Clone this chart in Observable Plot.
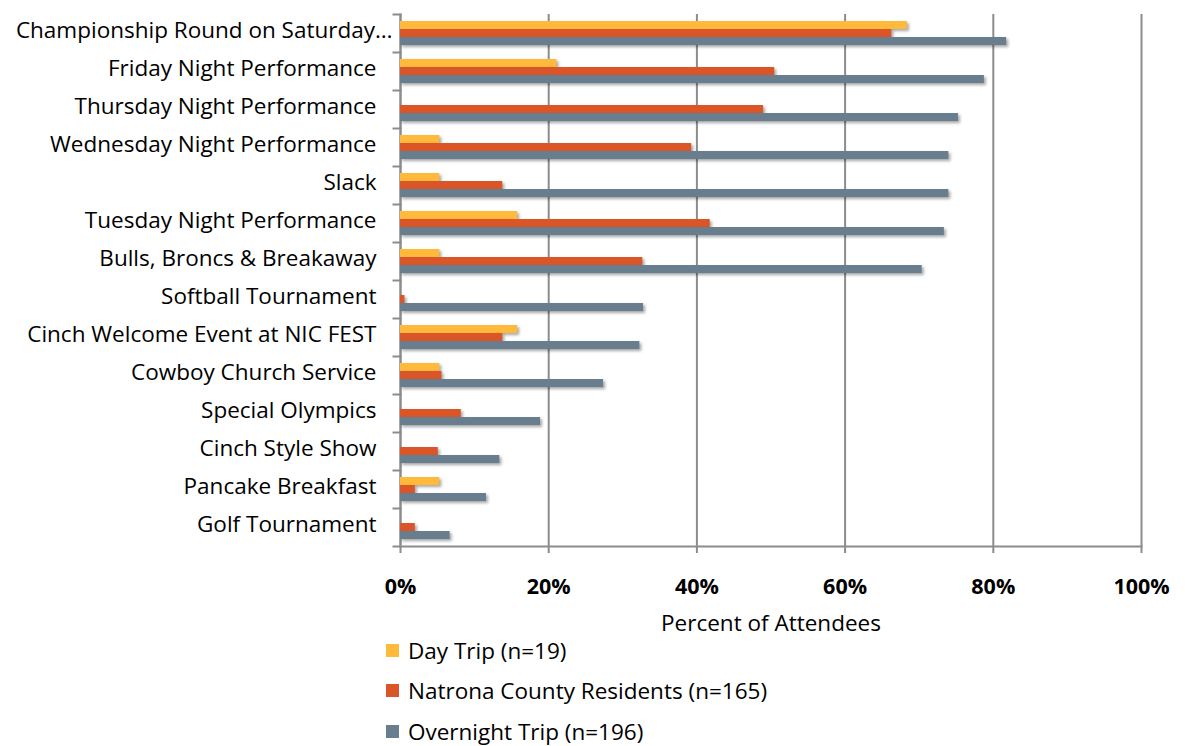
<!DOCTYPE html>
<html><head><meta charset="utf-8">
<script src="https://cdn.jsdelivr.net/npm/d3@7"></script>
<script src="https://cdn.jsdelivr.net/npm/@observablehq/plot@0.6"></script>
<style>
body{margin:0;background:#fff;font-family:"Open Sans",sans-serif;}
#chart{position:relative;width:1185px;height:746px;overflow:hidden;}
#chart svg{position:absolute;left:0;top:0;}
.legend{position:absolute;left:386px;top:630px;}
.item{height:40.5px;display:flex;align-items:center;font-size:22.5px;color:#000;}
.sw{width:13px;height:13px;margin-right:9px;}
g[aria-label="bar"] rect{filter:drop-shadow(2px 2px 1.5px rgba(0,0,0,0.35));}
</style></head>
<body><div id="chart"></div>
<script>
const categories = [
  "Championship Round on Saturday…",
  "Friday Night Performance",
  "Thursday Night Performance",
  "Wednesday Night Performance",
  "Slack",
  "Tuesday Night Performance",
  "Bulls, Broncs & Breakaway",
  "Softball Tournament",
  "Cinch Welcome Event at NIC FEST",
  "Cowboy Church Service",
  "Special Olympics",
  "Cinch Style Show",
  "Pancake Breakfast",
  "Golf Tournament"
];
const seriesNames = ["Day Trip (n=19)", "Natrona County Residents (n=165)", "Overnight Trip (n=196)"];
const dayTrip   = [68.4, 21.1, 0, 5.3, 5.3, 15.8, 5.3, 0, 15.8, 5.3, 0, 0, 5.3, 0];
const natrona   = [66.3, 50.5, 49.0, 39.3, 13.8, 41.8, 32.7, 0.6, 13.8, 5.6, 8.2, 5.1, 2.0, 2.0];
const overnight = [81.8, 78.8, 75.3, 74.0, 74.0, 73.4, 70.4, 32.8, 32.3, 27.4, 18.9, 13.4, 11.6, 6.7];
const xTicks = [0, 20, 40, 60, 80, 100];
const colors = ["#FFB93B", "#DA5628", "#687E8F"];
const xLabel = "Percent of Attendees";

const seriesValues = [dayTrip, natrona, overnight];
const data = categories.flatMap((c, i) =>
  seriesNames.map((s, j) => ({category: c, series: s, value: seriesValues[j][i]}))
).filter(d => d.value > 0);

const grid = "#8c8c8c";
const plot = Plot.plot({
  width: 1185, height: 650,
  marginTop: 11, marginBottom: 102, marginLeft: 400, marginRight: 44,
  style: {fontFamily: "'Open Sans', sans-serif", fontSize: "22px", color: "#000", background: "transparent"},
  x: {domain: [0, 100]},
  fy: {domain: categories, padding: 0, label: null},
  y: {domain: seriesNames, paddingInner: 0, paddingOuter: 0.71, axis: null},
  color: {domain: seriesNames, range: colors},
  marks: [
    Plot.gridX(xTicks, {stroke: grid, strokeOpacity: 1, strokeWidth: 2}),
    Plot.frame({anchor: "top", insetLeft: -7, insetRight: 741, stroke: grid, strokeWidth: 2}),
    Plot.frame({anchor: "left", facet: "super", stroke: grid, strokeWidth: 2}),
    Plot.frame({anchor: "bottom", facet: "super", insetLeft: -7, stroke: grid, strokeWidth: 2}),
    Plot.barX(data, {x: "value", y: "series", fy: "category", fill: "series"}),
    Plot.axisFy({anchor: "left", tickSize: 0, tickPadding: 24, fontSize: 22.5, dy: -2.5, label: null}),
    Plot.axisX(xTicks, {tickFormat: d => d + "%", tickSize: 7, tickPadding: 25, stroke: grid, strokeWidth: 2, strokeOpacity: 1, fontWeight: "bold", fontSize: 21.5, label: null}),
    Plot.text([xLabel], {frameAnchor: "bottom", lineAnchor: "middle", dy: 77, facet: "super", fontSize: 22.5, fill: "#000"})
  ]
});
// the truncated first label overflows its column a little in the original
d3.select(plot).selectAll('g[aria-label="fy-axis tick label"] text')
  .filter(function() { return this.textContent === categories[0]; })
  .attr("dx", 16);
const chart = document.getElementById("chart");
chart.appendChild(plot);
const legend = document.createElement("div");
legend.className = "legend";
seriesNames.forEach((s, i) => {
  const item = document.createElement("div");
  item.className = "item";
  const sw = document.createElement("span");
  sw.className = "sw";
  sw.style.background = colors[i];
  const t = document.createElement("span");
  t.textContent = s;
  item.appendChild(sw); item.appendChild(t);
  legend.appendChild(item);
});
chart.appendChild(legend);
</script>
</body></html>
